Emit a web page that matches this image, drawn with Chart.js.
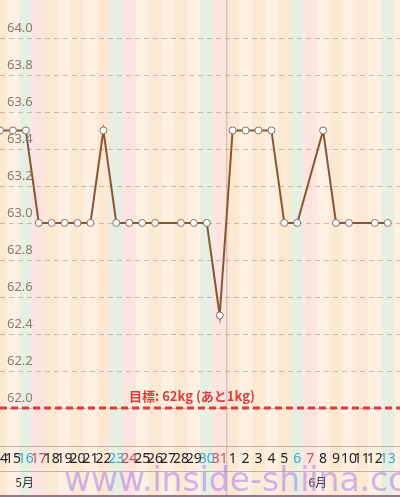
<!DOCTYPE html>
<html><head><meta charset="utf-8">
<script src="https://cdn.jsdelivr.net/npm/chart.js@4"></script>
<style>html,body{margin:0;padding:0;background:#fff}#wrap{width:400px;height:497px}</style>
</head><body><div id="wrap"><canvas id="weightChart"></canvas></div>
<script>
var days = [14,15,16,17,18,19,20,21,22,23,24,25,26,27,28,29,30,31,1,2,3,4,5,6,7,8,9,10,11,12,13];
var weekday = ['th','fr','sa','su','mo','tu','we','th','fr','sa','su','mo','tu','we','th','fr','sa','su','mo','tu','we','th','fr','sa','su','mo','tu','we','th','fr','sa'];
var weights = [63.5,63.5,63.5,63.0,63.0,63.0,63.0,63.0,63.5,63.0,63.0,63.0,63.0,null,63.0,63.0,63.0,62.5,63.5,63.5,63.5,63.5,63.0,63.0,null,63.5,63.0,63.0,null,63.0,63.0];
var months = [{label:'5月', at:1.9}, {label:'6月', at:24.6}];
var yTicks = [62.0,62.2,62.4,62.6,62.8,63.0,63.2,63.4,63.6,63.8,64.0];
var goal = 62.0;
var goalText = '目標: 62kg (あと1kg)';

var points = [];
for (var i = 0; i < weights.length; i++) points.push({x: i, y: weights[i]});

var stripes = {
    id: 'stripes',
    beforeDraw: function(chart){
        var c = chart.ctx, xs = chart.scales.x, ys = chart.scales.y, h = chart.height;
        for (var i = -1; i <= days.length; i++) {
            var col;
            var w = weekday[i];
            if (w === 'sa') col = '#e7efe3';
            else if (w === 'su') col = '#fde4df';
            else col = (i % 2 === 0) ? '#fde8d4' : '#fff0e2';
            var l = xs.getPixelForValue(i - 0.5), r = xs.getPixelForValue(i + 0.5);
            c.fillStyle = col;
            c.fillRect(l, 0, r - l + 0.5, h);
        }
        var jx = xs.getPixelForValue(17.55);
        c.strokeStyle = 'rgba(180,140,140,0.6)'; c.lineWidth = 1;
        c.beginPath(); c.moveTo(jx, 0); c.lineTo(jx, 497); c.stroke();
        c.strokeStyle = 'rgba(150,120,100,0.45)'; c.setLineDash([5,4]);
        c.beginPath();
        yTicks.forEach(function(t){ var y = Math.round(ys.getPixelForValue(t)) + 0.5; c.moveTo(0, y); c.lineTo(400, y); });
        c.stroke(); c.setLineDash([]);
    },
    afterDatasetsDraw: function(chart){
        var c = chart.ctx, xs = chart.scales.x, ys = chart.scales.y;
        c.save();
        c.font = '13px "Noto Sans", sans-serif';
        c.fillStyle = '#8a7a6e'; c.textBaseline = 'middle'; c.textAlign = 'left';
        yTicks.forEach(function(t){ c.fillText(t.toFixed(1), 7, ys.getPixelForValue(t) - 10); });
        var gy = ys.getPixelForValue(goal);
        c.strokeStyle = '#e03a3a'; c.lineWidth = 3; c.setLineDash([7,4]);
        c.beginPath(); c.moveTo(0, gy); c.lineTo(400, gy); c.stroke();
        c.setLineDash([]);
        c.fillStyle = '#e03a3a'; c.font = 'bold 13px "Noto Sans CJK JP", sans-serif'; c.textAlign = 'center';
        c.fillText(goalText, 192, gy - 12);
        c.strokeStyle = 'rgba(170,140,120,0.6)'; c.lineWidth = 1;
        c.beginPath(); c.moveTo(0, 446.5); c.lineTo(400, 446.5); c.moveTo(0, 471.5); c.lineTo(400, 471.5); c.stroke();
        c.strokeStyle = '#a07090'; c.lineWidth = 2;
        c.beginPath(); c.moveTo(0, 496); c.lineTo(400, 496); c.stroke();
        c.font = '14px "Noto Sans", sans-serif';
        for (var i = 0; i < days.length; i++) {
            var w = weekday[i];
            c.fillStyle = w === 'sa' ? '#3fa6c9' : (w === 'su' ? '#c8505c' : '#222');
            c.fillText(String(days[i]), xs.getPixelForValue(i), 459);
        }
        c.fillStyle = '#333'; c.font = '12px "Noto Sans CJK JP", sans-serif';
        months.forEach(function(m){ c.fillText(m.label, xs.getPixelForValue(m.at), 482); });
        c.fillStyle = 'rgba(160,120,235,0.5)'; c.font = '33px "DejaVu Sans", sans-serif'; c.textAlign = 'left';
        c.fillText('www.inside-shiina.com', 64, 482);
        c.restore();
    }
};

new Chart(document.getElementById('weightChart'), {
    type: 'line',
    data: { datasets: [{
        data: points,
        borderColor: '#8a5536',
        borderWidth: 2,
        tension: 0,
        spanGaps: true,
        pointRadius: 3.5,
        pointBackgroundColor: '#fff',
        pointBorderColor: '#8a7060',
        pointBorderWidth: 1
    }]},
    options: {
        responsive: true, maintainAspectRatio: false, animation: false,
        layout: { autoPadding: false, padding: { left: 0, right: 0, top: 0, bottom: 57 } },
        plugins: { legend: { display: false }, tooltip: { enabled: false } },
        scales: {
            x: { type: 'linear', min: 0, max: 30.95, display: false },
            y: { min: 61.827, max: 64.205, display: false }
        }
    },
    plugins: [stripes]
});
</script>
</body></html>
